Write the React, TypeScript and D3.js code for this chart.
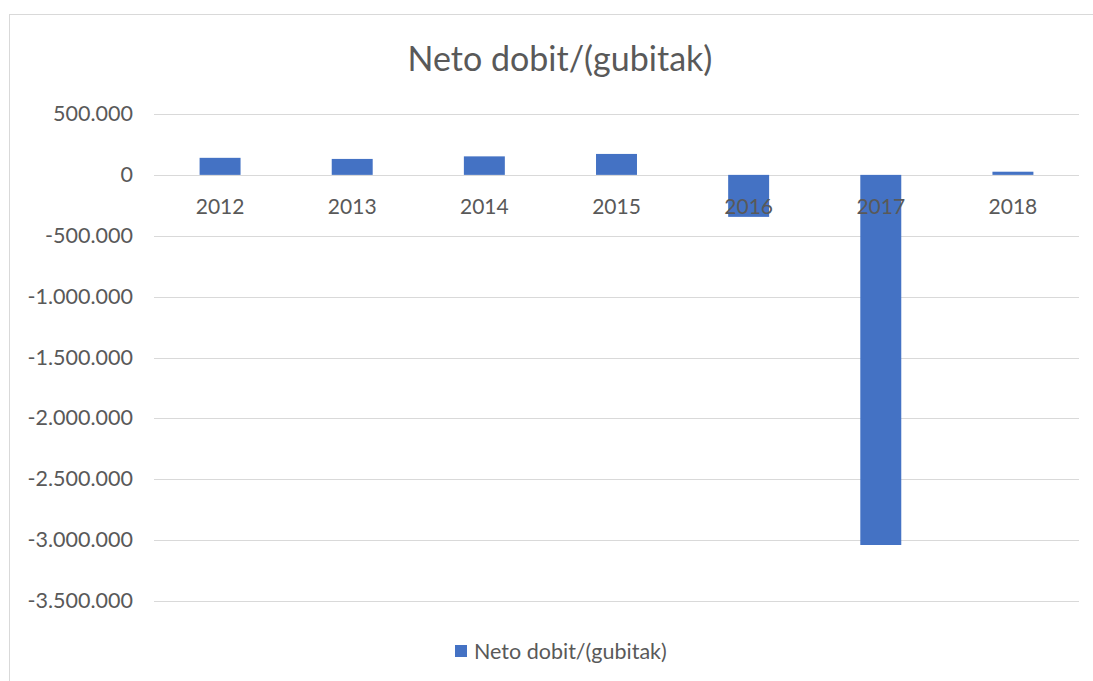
import React, { useEffect, useRef } from "react";
import * as d3 from "d3";

const years = ["2012", "2013", "2014", "2015", "2016", "2017", "2018"];
const netProfit = [140000, 131000, 152000, 172000, -345000, -3040000, 26000];
const yTicks = [500000, 0, -500000, -1000000, -1500000, -2000000, -2500000, -3000000, -3500000];
const seriesName = "Neto dobit/(gubitak)";

const W = 1093;
const H = 681;
const plot = { left: 154, right: 1079, top: 114, bottom: 601 };
const textColor = "#595959";
const barColor = "#4472c4";
const font = "Lato, 'Open Sans', sans-serif";

// 500000 -> "500.000"
const fmt = (v: number) => {
  const s = d3.format(",")(v);
  return s.replace(/,/g, ".").replace("−", "-");
};

const App = () => {
  const svgRef = useRef<SVGSVGElement>(null);

  useEffect(() => {
    const svg = d3.select(svgRef.current);
    svg.selectAll("*").remove();

    // chart frame
    svg
      .append("rect")
      .attr("x", 9.5)
      .attr("y", 14.5)
      .attr("width", W + 20)
      .attr("height", H + 20)
      .attr("fill", "#fff")
      .attr("stroke", "#d9d9d9");

    const x = d3.scaleBand().domain(years).range([plot.left, plot.right]).paddingInner(0.69).paddingOuter(0.345);
    const y = d3.scaleLinear().domain([-3500000, 500000]).range([plot.bottom, plot.top]);

    svg
      .append("text")
      .attr("x", 560)
      .attr("y", 71)
      .attr("text-anchor", "middle")
      .attr("font-family", font)
      .attr("font-size", 34)
      .attr("fill", textColor)
      .text(seriesName);

    // grid + y labels
    const g = svg.append("g");
    g.selectAll(".grid")
      .data(yTicks)
      .enter()
      .append("line")
      .attr("x1", plot.left)
      .attr("x2", plot.right)
      .attr("y1", (d) => Math.round(y(d)) + 0.5)
      .attr("y2", (d) => Math.round(y(d)) + 0.5)
      .attr("stroke", "#d9d9d9")
      .attr("stroke-width", 1);

    g.selectAll(".ylab")
      .data(yTicks)
      .enter()
      .append("text")
      .attr("x", 133)
      .attr("y", (d) => y(d) + 7)
      .attr("text-anchor", "end")
      .attr("font-family", font)
      .attr("font-size", 21.5)
      .attr("fill", textColor)
      .text((d) => fmt(d));

    // bars
    svg
      .selectAll(".bar")
      .data(netProfit)
      .enter()
      .append("rect")
      .attr("x", (d, i) => x(years[i]) as number)
      .attr("width", x.bandwidth())
      .attr("y", (d) => y(Math.max(0, d)))
      .attr("height", (d) => Math.abs(y(d) - y(0)))
      .attr("fill", barColor);

    // category labels (drawn above bars)
    svg
      .selectAll(".xlab")
      .data(years)
      .enter()
      .append("text")
      .attr("x", (d) => (x(d) as number) + x.bandwidth() / 2)
      .attr("y", 214)
      .attr("text-anchor", "middle")
      .attr("font-family", font)
      .attr("font-size", 21)
      .attr("fill", textColor)
      .text((d) => d);

    // legend
    const lg = svg.append("g").attr("transform", "translate(455,645)");
    lg.append("rect").attr("width", 12).attr("height", 12).attr("fill", barColor);
    lg.append("text")
      .attr("x", 19)
      .attr("y", 14)
      .attr("font-family", font)
      .attr("font-size", 21.5)
      .attr("fill", textColor)
      .text(seriesName);
  }, []);

  return (
    <svg
      ref={svgRef}
      width={W}
      height={H}
      style={{ position: "absolute", left: 0, top: 0 }}
    />
  );
};

export default App;
